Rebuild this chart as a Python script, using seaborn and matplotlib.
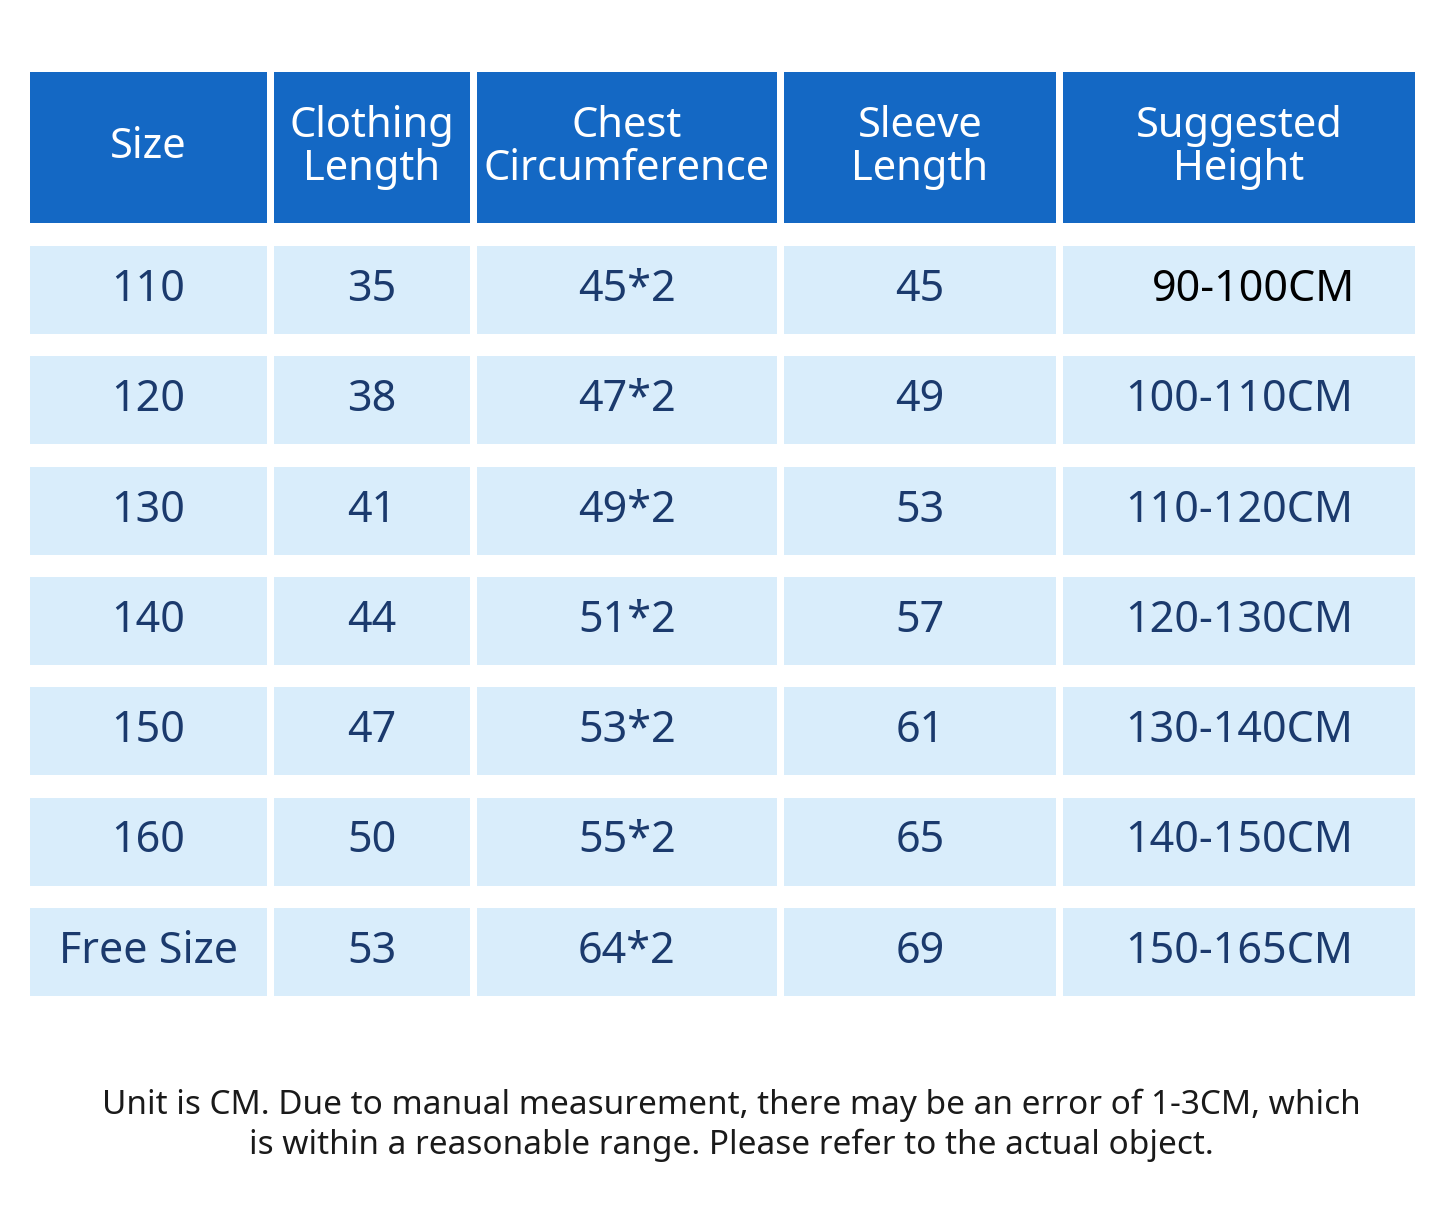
import matplotlib.pyplot as plt
import seaborn as sns
from matplotlib.patches import Rectangle

sns.set_theme(style="white")
plt.rcParams['font.family'] = ['Noto Sans', 'DejaVu Sans']

# table contents
headers = ['Size', 'Clothing\nLength', 'Chest\nCircumference', 'Sleeve\nLength', 'Suggested\nHeight']
sizes = ['110', '120', '130', '140', '150', '160', 'Free Size']
clothing_length = ['35', '38', '41', '44', '47', '50', '53']
chest = ['45*2', '47*2', '49*2', '51*2', '53*2', '55*2', '64*2']
sleeve = ['45', '49', '53', '57', '61', '65', '69']
height = ['90-100CM', '100-110CM', '110-120CM', '120-130CM', '130-140CM', '140-150CM', '150-165CM']
note = ('Unit is CM. Due to manual measurement, there may be an error of 1-3CM, which\n'
        'is within a reasonable range. Please refer to the actual object.')

# layout in pixel units
col_edges = [(30, 267), (274, 470), (477, 777), (784, 1056), (1063, 1415)]
header_box = (72, 223)
row_top0, row_h, row_step = 246, 88, 110.3

fig = plt.figure(figsize=(14.45, 12.32), dpi=100)
ax = fig.add_axes([0, 0, 1, 1])
ax.set_xlim(0, 1445)
ax.set_ylim(1232, 0)
ax.axis('off')

head_col = '#1468c4'
cell_col = '#d9edfb'
text_col = '#1b3a6d'

for (x0, x1), h in zip(col_edges, headers):
    ax.add_patch(Rectangle((x0, header_box[0]), x1 - x0, header_box[1] - header_box[0],
                           facecolor=head_col, edgecolor='none'))
    ax.text((x0 + x1) / 2, sum(header_box) / 2, h, color='white', fontsize=30,
            ha='center', va='center', linespacing=1.05)

columns = [sizes, clothing_length, chest, sleeve, height]
for r in range(len(sizes)):
    y0 = row_top0 + r * row_step
    for c, ((x0, x1), vals) in enumerate(zip(col_edges, columns)):
        ax.add_patch(Rectangle((x0, y0), x1 - x0, row_h, facecolor=cell_col, edgecolor='none'))
        bold = (r == 0 and c == 4)
        xc = (x0 + x1) / 2 + (15 if bold else 0)
        ax.text(xc, y0 + row_h / 2, vals[r], fontsize=31,
                color='black' if bold else text_col,
                fontweight='bold' if bold else 'normal', ha='center', va='center')

ax.text(731, 1125, note, fontsize=24, color='#1a1a1a', ha='center', va='center', linespacing=1.25)

fig.savefig('out.png', dpi=100, facecolor='white')
